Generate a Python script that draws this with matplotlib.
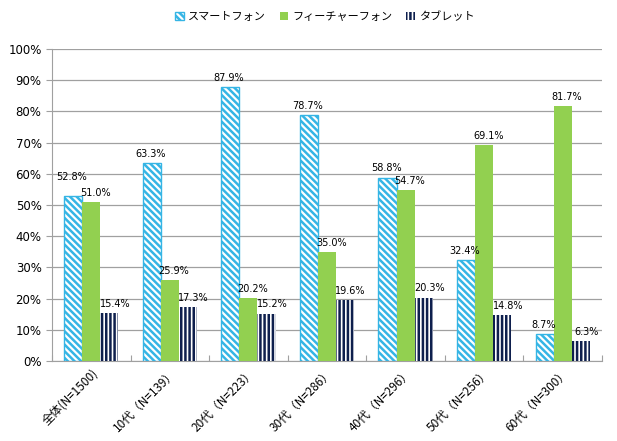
import numpy as np
import matplotlib.pyplot as plt

plt.rcParams['font.family'] = ['Noto Sans CJK JP', 'DejaVu Sans']
plt.rcParams['hatch.linewidth'] = 1.8

# データ
categories = ['全体(N=1500)', '10代（N=139）', '20代（N=223）', '30代（N=286）',
              '40代（N=296）', '50代（N=256）', '60代（N=300）']
smartphone = [52.8, 63.3, 87.9, 78.7, 58.8, 32.4, 8.7]
feature = [51.0, 25.9, 20.2, 35.0, 54.7, 69.1, 81.7]
tablet = [15.4, 17.3, 15.2, 19.6, 20.3, 14.8, 6.3]
series_names = ['スマートフォン', 'フィーチャーフォン', 'タブレット']

blue = '#35B5E5'
green = '#92D050'
navy = '#0E1F4D'

fig = plt.figure(figsize=(6.17, 4.41), dpi=100)
ax = fig.add_axes([0.0843, 0.1814, 0.8914, 0.7076])

x = np.arange(len(categories))
w = 0.23

b1 = ax.bar(x - w, smartphone, w, facecolor='white', edgecolor=blue,
            hatch='\\\\\\\\\\', linewidth=1.0, label=series_names[0], zorder=3)
b2 = ax.bar(x, feature, w, color=green, label=series_names[1], zorder=3)
b3 = ax.bar(x + w, tablet, w, facecolor='white', edgecolor=navy,
            hatch='||||', linewidth=0, label=series_names[2], zorder=3)

# ラベル（隣と重なる場合は少し上へ）
for i, v in enumerate(smartphone):
    dy = 10 if abs(v - feature[i]) < 4 else 3
    ax.annotate(f'{v:.1f}%', (x[i] - w, v), xytext=(-1, dy),
                textcoords='offset points', ha='center', va='bottom',
                fontsize=7, family='DejaVu Sans')
for i, v in enumerate(feature):
    ax.annotate(f'{v:.1f}%', (x[i], v), xytext=(3, 3),
                textcoords='offset points', ha='center', va='bottom',
                fontsize=7, family='DejaVu Sans')
for i, v in enumerate(tablet):
    ax.annotate(f'{v:.1f}%', (x[i] + w, v), xytext=(4, 3),
                textcoords='offset points', ha='center', va='bottom',
                fontsize=7, family='DejaVu Sans')

ax.set_xlim(-0.5, len(categories) - 0.5)
ax.set_ylim(0, 100)
ax.set_yticks(np.arange(0, 101, 10))
ax.set_yticklabels([f'{v}%' for v in range(0, 101, 10)], fontsize=8.5,
                   family='DejaVu Sans')
ax.yaxis.grid(True, color='#A0A0A0', linewidth=0.9, zorder=0)
ax.set_axisbelow(True)

ax.set_xticks(np.arange(-0.5, len(categories), 1))
ax.set_xticklabels([])
ax.set_xticks(x, minor=True)
ax.set_xticklabels(categories, minor=True, rotation=45, ha='right',
                   rotation_mode='anchor', fontsize=8.5)
ax.tick_params(axis='x', which='minor', length=0, pad=4)
ax.tick_params(axis='x', which='major', length=4, color='#A0A0A0', direction='in')
ax.tick_params(axis='y', length=4, color='#A0A0A0', direction='out')

for s in ['top', 'right']:
    ax.spines[s].set_visible(False)
for s in ['left', 'bottom']:
    ax.spines[s].set_color('#A0A0A0')

fig.legend(handles=[b1, b2, b3], loc='center', bbox_to_anchor=(0.527, 0.962),
           ncol=3, frameon=False, fontsize=8, handlelength=0.8, handleheight=0.8,
           columnspacing=1.2, handletextpad=0.4)

fig.savefig('out.png', dpi=100)
